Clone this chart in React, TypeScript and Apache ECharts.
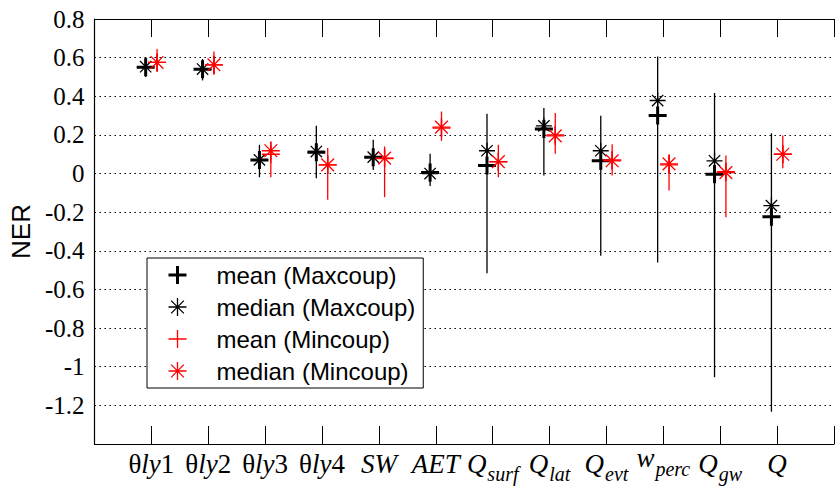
import React, { useEffect, useRef } from 'react';
import * as echarts from 'echarts';

const categories = ['θly1', 'θly2', 'θly3', 'θly4', 'SW', 'AET', 'Q_surf', 'Q_lat', 'Q_evt', 'w_perc', 'Q_gw', 'Q'];
const tickLabels = [
  '{n|θ}{i|ly}{n|1}',
  '{n|θ}{i|ly}{n|2}',
  '{n|θ}{i|ly}{n|3}',
  '{n|θ}{i|ly}{n|4}',
  '{i|SW}',
  '{i|AET}',
  '{i|Q}{s|surf}',
  '{i|Q}{s|lat}',
  '{i|Q}{s|evt}',
  '{w|w}{ws|perc}',
  '{i|Q}{s|gw}',
  '{i|Q}',
];

const maxMean = [0.55, 0.54, 0.07, 0.11, 0.085, 0.005, 0.042, 0.23, 0.066, 0.3, -0.003, -0.223];
const maxMedian = [0.553, 0.541, 0.071, 0.114, 0.085, 0.0, 0.118, 0.247, 0.118, 0.378, 0.066, -0.166];
const maxLow = [0.5, 0.482, -0.019, -0.024, 0.019, -0.064, -0.516, -0.01, -0.426, -0.461, -1.055, -1.233];
const maxHigh = [0.603, 0.593, 0.149, 0.247, 0.175, 0.102, 0.309, 0.339, 0.299, 0.606, 0.417, 0.209];

const minMean = [0.575, 0.563, 0.1, 0.045, 0.078, 0.235, 0.06, 0.2, 0.07, 0.045, 0.01, 0.1];
const minMedian = [0.575, 0.563, 0.118, 0.045, 0.08, 0.24, 0.062, 0.195, 0.066, 0.05, 0.005, 0.1];
const minLow = [0.528, 0.511, -0.019, -0.136, -0.122, 0.169, -0.019, 0.102, -0.01, -0.088, -0.226, 0.028];
const minHigh = [0.645, 0.632, 0.166, 0.132, 0.14, 0.321, 0.149, 0.313, 0.152, 0.1, 0.093, 0.197];

const legendNames = ['mean (Maxcoup)', 'median (Maxcoup)', 'mean (Mincoup)', 'median (Mincoup)'];

const OFF = 0.1;
const PLUS = 'path://M0,-10L0,10M-10,0L10,0';
const STAR = 'path://M0,-10L0,10M-10,0L10,0M-7.07,-7.07L7.07,7.07M-7.07,7.07L7.07,-7.07';
const RED = '#ff0000';
const SERIF = 'Liberation Serif';
const SANS = 'Liberation Sans';

function pts(vals: number[], off: number) {
  return vals.map((v, i) => [i + 1 + off, v]);
}
function bars(lo: number[], hi: number[], off: number) {
  return lo.map((v, i) => [i + 1 + off, v, hi[i]]);
}

function errSeries(data: number[][], color: string) {
  return {
    type: 'custom',
    silent: true,
    z: 1,
    renderItem: (params: any, api: any) => {
      const x = api.value(0);
      const p1 = api.coord([x, api.value(1)]);
      const p2 = api.coord([x, api.value(2)]);
      return {
        type: 'line',
        shape: { x1: p1[0], y1: p1[1], x2: p2[0], y2: p2[1] },
        style: { stroke: color, lineWidth: 1.3 },
      };
    },
    encode: { x: 0, y: [1, 2] },
    data,
  };
}

function markSeries(name: string, data: number[][], symbol: string, color: string, size: number, bw: number) {
  return {
    name,
    type: 'scatter',
    z: 3,
    symbol,
    symbolSize: size,
    itemStyle: { color: 'transparent', borderColor: color, borderWidth: bw, opacity: 1 },
    data,
  };
}

export default function App() {
  const ref = useRef<HTMLDivElement>(null);
  useEffect(() => {
    if (!ref.current) return;
    const chart = echarts.init(ref.current, undefined, { renderer: 'svg' });
    const xCommon = {
      type: 'value',
      min: 0,
      max: 13,
      interval: 1,
      axisLine: { show: true, onZero: false, lineStyle: { color: '#000', width: 1.2 } },
      axisTick: { show: true, inside: true, length: 18, lineStyle: { color: '#000', width: 1 } },
      splitLine: { show: false },
    };
    chart.setOption({
      animation: false,
      backgroundColor: '#fff',
      textStyle: { fontFamily: SERIF },
      grid: { left: 91, top: 19, width: 757.5, height: 425, containLabel: false },
      xAxis: [
        {
          ...xCommon,
          position: 'bottom',
          axisLabel: {
            margin: 0,
            color: '#000',
            fontFamily: SERIF,
            fontSize: 27,
            formatter: (v: number) => (v >= 1 && v <= 12 ? tickLabels[v - 1] : ''),
            rich: {
              n: { fontFamily: SERIF, fontSize: 27, lineHeight: 27, verticalAlign: 'top', padding: [6, 0, 0, 0], color: '#000' },
              i: { fontFamily: SERIF, fontStyle: 'italic', fontSize: 27, lineHeight: 27, verticalAlign: 'top', padding: [6, 0, 0, 0], color: '#000' },
              s: { fontFamily: SERIF, fontStyle: 'italic', fontSize: 20, lineHeight: 20, verticalAlign: 'top', padding: [20, 0, 0, 1], color: '#000' },
              w: { fontFamily: SERIF, fontStyle: 'italic', fontSize: 27, lineHeight: 27, verticalAlign: 'top', padding: [0, 0, 0, 0], color: '#000' },
              ws: { fontFamily: SERIF, fontStyle: 'italic', fontSize: 20, lineHeight: 20, verticalAlign: 'top', padding: [15, 0, 0, 1], color: '#000' },
            },
          },
        },
        { ...xCommon, position: 'top', axisLabel: { show: false } },
      ],
      yAxis: {
        type: 'value',
        min: -1.4,
        max: 0.8,
        interval: 0.2,
        name: 'NER',
        nameLocation: 'middle',
        nameGap: 58,
        nameTextStyle: { fontFamily: SANS, fontSize: 26, color: '#000' },
        axisLine: { show: true, onZero: false, lineStyle: { color: '#000', width: 1.2 } },
        axisTick: { show: false },
        axisLabel: {
          margin: 10,
          fontFamily: SERIF,
          fontSize: 25,
          color: '#000',
          formatter: (v: number) => {
            const r = Math.round(v * 10) / 10;
            if (Math.abs(r + 1.4) < 1e-6) return '';
            return String(r === 0 ? 0 : r);
          },
        },
        splitLine: { show: true, lineStyle: { color: '#000', width: 1, type: [1.5, 3.5] } },
      },
      legend: {
        orient: 'vertical',
        left: 147,
        top: 258,
        padding: [3, 8, 3, 20],
        itemGap: 4,
        itemWidth: 18,
        itemHeight: 18,
        backgroundColor: '#fff',
        borderColor: '#000',
        borderWidth: 1,
        textStyle: { fontFamily: SANS, fontSize: 24, color: '#000', lineHeight: 28, padding: [0, 0, 0, 25] },
        data: [
          { name: legendNames[0], itemStyle: { color: 'transparent', borderColor: '#000', borderWidth: 3 } },
          { name: legendNames[1], itemStyle: { color: 'transparent', borderColor: '#000', borderWidth: 1.3 } },
          { name: legendNames[2], itemStyle: { color: 'transparent', borderColor: RED, borderWidth: 1.3 } },
          { name: legendNames[3], itemStyle: { color: 'transparent', borderColor: RED, borderWidth: 1.3 } },
        ],
      },
      series: [
        errSeries(bars(maxLow, maxHigh, -OFF), '#000'),
        errSeries(bars(minLow, minHigh, OFF), RED),
        markSeries(legendNames[0], pts(maxMean, -OFF), PLUS, '#000', 18, 3),
        markSeries(legendNames[1], pts(maxMedian, -OFF), STAR, '#000', 16, 1.3),
        markSeries(legendNames[2], pts(minMean, OFF), PLUS, RED, 18, 1.3),
        markSeries(legendNames[3], pts(minMedian, OFF), STAR, RED, 18, 1.3),
      ],
    });
    return () => chart.dispose();
  }, []);
  return <div ref={ref} style={{ position: 'fixed', left: 0, top: 0, width: 837, height: 486 }} />;
}
